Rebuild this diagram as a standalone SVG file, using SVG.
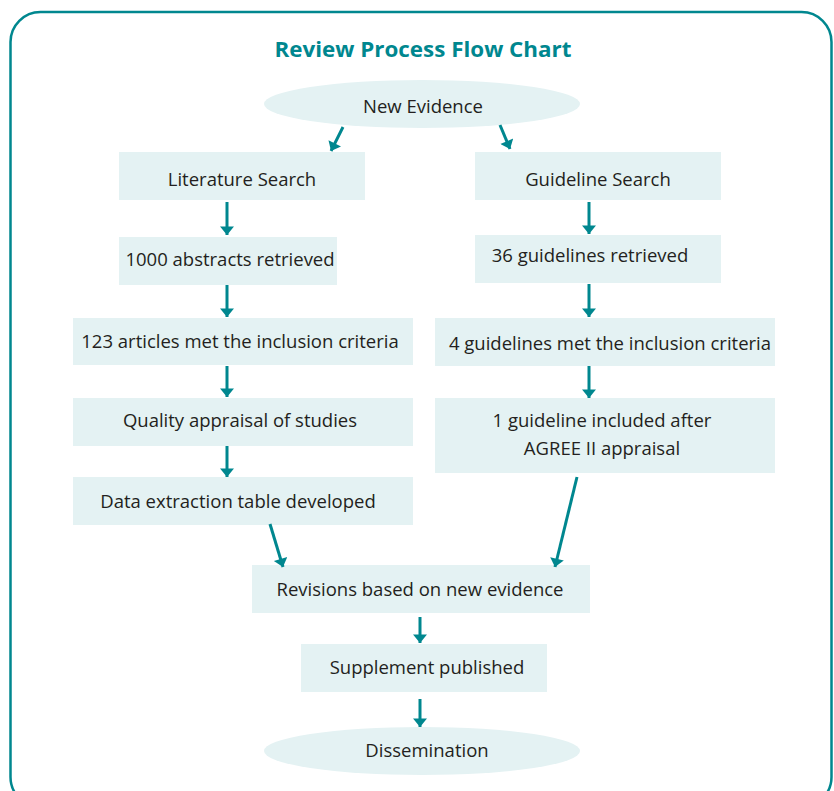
<svg xmlns="http://www.w3.org/2000/svg" width="834" height="791" viewBox="0 0 834 791">
<defs>
<style>
.box{fill:#e4f2f3}
.t{font-family:"Open Sans","Noto Sans","Liberation Sans",sans-serif;font-size:18.5px;fill:#231f20;text-anchor:middle}
.title{font-family:"Open Sans","Liberation Sans",sans-serif;font-size:22px;font-weight:bold;fill:#00878f;text-anchor:middle}
.c{stroke:#00878f;stroke-width:3;fill:none;marker-end:url(#ah)}
</style>
<marker id="ah" markerUnits="userSpaceOnUse" markerWidth="22" markerHeight="14" refX="12" refY="10" orient="auto" viewBox="0 0 12 20">
<path d="M0,0 L12,10 L0,20 Z" fill="#00878f"/>
</marker>
</defs>
<rect x="10.5" y="12" width="821" height="795" rx="30" ry="30" fill="#ffffff" stroke="#00878f" stroke-width="2.5"/>
<text class="title" x="423" y="57" textLength="297" lengthAdjust="spacingAndGlyphs">Review Process Flow Chart</text>

<g id="new-evidence"><ellipse class="box" cx="422" cy="104" rx="158" ry="24"/><text class="t" x="423" y="113">New Evidence</text></g>
<g id="literature-search"><rect class="box" x="119" y="152" width="246" height="48"/><text class="t" x="242" y="186">Literature Search</text></g>
<g id="abstracts"><rect class="box" x="119" y="237" width="218" height="48"/><text class="t" x="230" y="266">1000 abstracts retrieved</text></g>
<g id="articles"><rect class="box" x="73" y="318" width="340" height="47"/><text class="t" x="240" y="348">123 articles met the inclusion criteria</text></g>
<g id="quality"><rect class="box" x="73" y="398" width="340" height="48"/><text class="t" x="240" y="427">Quality appraisal of studies</text></g>
<g id="data-extraction"><rect class="box" x="73" y="477" width="340" height="48"/><text class="t" x="238" y="508">Data extraction table developed</text></g>
<g id="guideline-search"><rect class="box" x="475" y="152" width="246" height="48"/><text class="t" x="598" y="186">Guideline Search</text></g>
<g id="guidelines-retrieved"><rect class="box" x="475" y="235" width="246" height="48"/><text class="t" x="590" y="262">36 guidelines retrieved</text></g>
<g id="guidelines-met"><rect class="box" x="435" y="318" width="340" height="48"/><text class="t" x="610" y="350">4 guidelines met the inclusion criteria</text></g>
<g id="guideline-included"><rect class="box" x="435" y="398" width="340" height="75"/><text class="t" x="602" y="427">1 guideline included after</text><text class="t" x="602" y="455">AGREE II appraisal</text></g>
<g id="revisions"><rect class="box" x="252" y="565" width="338" height="48"/><text class="t" x="420" y="596">Revisions based on new evidence</text></g>
<g id="supplement"><rect class="box" x="301" y="644" width="246" height="48"/><text class="t" x="427" y="674">Supplement published</text></g>
<g id="dissemination"><ellipse class="box" cx="422" cy="751" rx="158" ry="24"/><text class="t" x="427" y="757">Dissemination</text></g>

<g id="connectors">
<line class="c" x1="343" y1="127" x2="331" y2="151"/>
<line class="c" x1="500" y1="125" x2="510" y2="149"/>
<line class="c" x1="227" y1="202" x2="227" y2="235"/>
<line class="c" x1="227" y1="285" x2="227" y2="317"/>
<line class="c" x1="227" y1="366" x2="227" y2="397"/>
<line class="c" x1="227" y1="446" x2="227" y2="477"/>
<line class="c" x1="589" y1="202" x2="589" y2="234"/>
<line class="c" x1="589" y1="284" x2="589" y2="317"/>
<line class="c" x1="589" y1="366" x2="589" y2="398"/>
<line class="c" x1="270" y1="524" x2="283" y2="567"/>
<line class="c" x1="577" y1="477" x2="555" y2="567"/>
<line class="c" x1="420" y1="617" x2="420" y2="643"/>
<line class="c" x1="420" y1="699" x2="420" y2="727"/>
</g>
</svg>
